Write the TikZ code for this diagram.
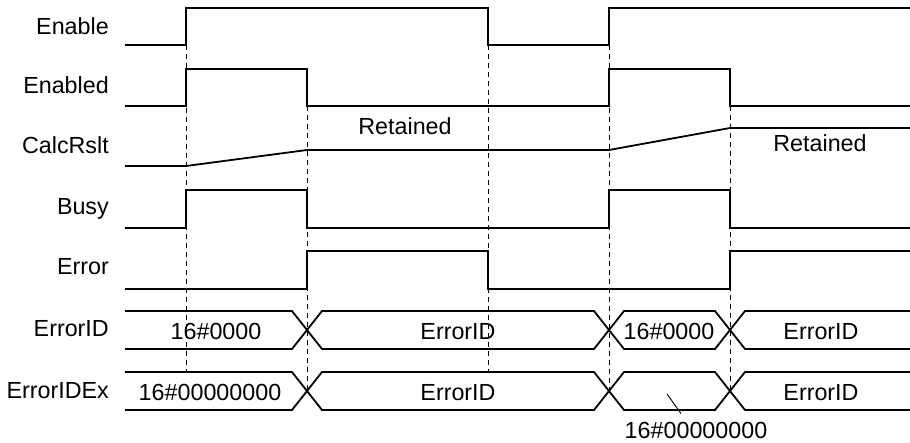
\documentclass[tikz,border=0pt]{standalone}
\usepackage{fontspec}
\setmainfont{Liberation Sans}
\begin{document}
\begin{tikzpicture}[x=1pt,y=-1pt,
  sig/.style={line width=1.8pt, line join=miter},
  guide/.style={line width=0.9pt, dash pattern=on 5pt off 4pt},
  lbl/.style={anchor=base east, inner sep=0pt, font=\fontsize{23.3}{27}\selectfont},
  val/.style={anchor=base, inner sep=0pt, font=\fontsize{23.3}{27}\selectfont},
  leader/.style={line width=0.9pt}]
\useasboundingbox (0,0) rectangle (910,443);
% guide lines
\draw[guide] (186,45) -- (186,372);
\draw[guide] (307,106) -- (307,391);
\draw[guide] (488,45) -- (488,372);
\draw[guide] (609,45) -- (609,391);
\draw[guide] (730,106) -- (730,391);
% row labels
\node[lbl] (lEnable)  at (109,34.5) {Enable};
\node[lbl] (lEnabled) at (109,94)   {Enabled};
\node[lbl] (lCalc)    at (109,154)  {CalcRslt};
\node[lbl] (lBusy)    at (109,215)  {Busy};
\node[lbl] (lError)   at (109,275)  {Error};
\node[lbl] (lErrID)   at (109,337)  {ErrorID};
\node[lbl] (lErrIDEx) at (109,398)  {ErrorIDEx};
% signals
\draw[sig] (125,45) -- (186,45) -- (186,8) -- (488,8) -- (488,45) -- (609,45) -- (609,8) -- (910,8);
\draw[sig] (125,106) -- (186,106) -- (186,69) -- (307,69) -- (307,106) -- (609,106) -- (609,69) -- (730,69) -- (730,106) -- (910,106);
\draw[sig] (125,166) -- (186,166) -- (307,150) -- (609,150) -- (730,128) -- (910,128);
\draw[sig] (125,228) -- (186,228) -- (186,190) -- (307,190) -- (307,228) -- (609,228) -- (609,190) -- (730,190) -- (730,228) -- (910,228);
\draw[sig] (125,289) -- (307,289) -- (307,251) -- (488,251) -- (488,289) -- (730,289) -- (730,251) -- (910,251);
% buses
\foreach \T/\B in {311/349, 372/410}{
  \draw[sig] (125,\T) -- (292,\T) -- (322,\B) -- (594,\B) -- (624,\T) -- (715,\T) -- (745,\B) -- (910,\B);
  \draw[sig] (125,\B) -- (292,\B) -- (322,\T) -- (594,\T) -- (624,\B) -- (715,\B) -- (745,\T) -- (910,\T);
}
% values
\node[val] (ret1) at (405,135) {Retained};
\node[val] (ret2) at (820,152) {Retained};
\node[val] (id1) at (216,340) {16\#0000};
\node[val] (id2) at (458,340) {ErrorID};
\node[val] (id3) at (669,340) {16\#0000};
\node[val] (id4) at (821,340) {ErrorID};
\node[val] (ex1) at (210,400) {16\#00000000};
\node[val] (ex2) at (458,400) {ErrorID};
\node[val] (ex4) at (821,400) {ErrorID};
\node[val] (ex3) at (696,438) {16\#00000000};
\coordinate (ldr) at (667,394);
\draw[leader] (ldr) -- ([xshift=-15pt,yshift=8pt]ex3.north);
\end{tikzpicture}
\end{document}
